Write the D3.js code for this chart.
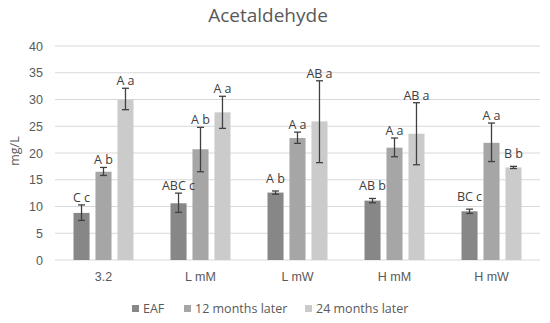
<!DOCTYPE html>
<html>
<head>
<meta charset="utf-8">
<script src="https://cdn.jsdelivr.net/npm/d3@7"></script>
<style>
	body { margin: 0; background: #fff; }
	svg { display: block; font-family: 'Open Sans', 'Liberation Sans', sans-serif; }
</style>
</head>
<body>
<div id="chart"><svg width="550" height="323"></svg></div>
<script>
var categories = ['3.2', 'L mM', 'L mW', 'H mM', 'H mW'];
var seriesNames = ['EAF', '12 months later', '24 months later'];
var seriesColors = ['#878787', '#a6a6a6', '#cbcbcb'];
var yTicks = [0, 5, 10, 15, 20, 25, 30, 35, 40];

// mean values per series (one per category)
var eafValues = [8.8, 10.6, 12.6, 11.1, 9.1];
var m12Values = [16.5, 20.7, 22.8, 21.0, 21.9];
var m24Values = [30.0, 27.6, 25.9, 23.6, 17.3];

// error bar lows / highs
var eafLow = [7.4, 8.9, 12.3, 10.7, 8.7];
var eafHigh = [10.3, 12.5, 12.9, 11.5, 9.5];
var m12Low = [15.8, 16.5, 21.8, 19.3, 18.4];
var m12High = [17.3, 24.8, 23.9, 22.8, 25.6];
var m24Low = [28.1, 24.6, 18.2, 17.8, 17.1];
var m24High = [32.1, 30.6, 33.5, 29.4, 17.5];

// letter labels
var eafLabels = ['C c', 'ABC c', 'A b', 'AB b', 'BC c'];
var m12Labels = ['A b', 'A b', 'A a', 'A a', 'A a'];
var m24Labels = ['A a', 'A a', 'AB a', 'AB a', 'B b'];

var margin = { top: 46, left: 55, right: 10, bottom: 63 };
var svg = d3.select('#chart > svg');
var width = 550 - margin.left - margin.right;
var height = 323 - margin.top - margin.bottom;

var values = [eafValues, m12Values, m24Values];
var lows = [eafLow, m12Low, m24Low];
var highs = [eafHigh, m12High, m24High];
var labels = [eafLabels, m12Labels, m24Labels];

var data = [];
categories.forEach(function(c, i) {
	seriesNames.forEach(function(s, j) {
		data.push({ cat: c, series: s, idx: j, value: values[j][i], lo: lows[j][i], hi: highs[j][i], label: labels[j][i] });
	});
});

var xScale = d3.scaleBand().domain(categories).range([0, width]);
var xInner = d3.scaleBand().domain(seriesNames).range([0, 60]).paddingInner(0.27);
var yScale = d3.scaleLinear().domain([0, 40]).range([height, 0]);

// title
svg.append('text')
	.attr('x', 268).attr('y', 22)
	.attr('text-anchor', 'middle')
	.attr('font-size', 19)
	.attr('fill', '#595959')
	.text('Acetaldehyde');

var group = svg.append('g')
	.attr('transform', 'translate(' + [margin.left, margin.top] + ')');

// grid
group.append('g').selectAll('line')
	.data(yTicks)
	.enter().append('line')
	.attr('x1', 0).attr('x2', width)
	.attr('y1', function(d) { return yScale(d) })
	.attr('y2', function(d) { return yScale(d) })
	.attr('stroke', '#d9d9d9')
	.attr('stroke-width', 1);

// y axis
var yAxis = group.append('g')
	.call(d3.axisLeft(yScale).tickValues(yTicks).tickSize(0).tickPadding(12));
yAxis.select('.domain').remove();
yAxis.selectAll('text').attr('font-size', 12.5).attr('fill', '#595959').attr('font-family', null);

// x axis
var xAxis = group.append('g')
	.attr('transform', 'translate(0,' + height + ')')
	.call(d3.axisBottom(xScale).tickSize(0).tickPadding(12));
xAxis.select('.domain').remove();
xAxis.selectAll('text').attr('font-size', 12.5).attr('fill', '#595959').attr('font-family', null);

// y label
svg.append('text')
	.attr('transform', 'translate(19,151) rotate(-90)')
	.attr('text-anchor', 'middle')
	.attr('font-size', 12.5)
	.attr('fill', '#595959')
	.text('mg/L');

function barX(d) { return xScale(d.cat) + (xScale.bandwidth() - 60) / 2 + xInner(d.series) }

// bars
group.append('g').selectAll('rect')
	.data(data)
	.enter().append('rect')
	.attr('x', barX)
	.attr('y', function(d) { return yScale(d.value) })
	.attr('width', xInner.bandwidth())
	.attr('height', function(d) { return height - yScale(d.value) })
	.attr('fill', function(d) { return seriesColors[d.idx] });

// error bars
var err = group.append('g').attr('stroke', '#404040').attr('stroke-width', 1.3);
data.forEach(function(d) {
	var cx = barX(d) + xInner.bandwidth() / 2;
	err.append('line').attr('x1', cx).attr('x2', cx).attr('y1', yScale(d.lo)).attr('y2', yScale(d.hi));
	err.append('line').attr('x1', cx - 3.5).attr('x2', cx + 3.5).attr('y1', yScale(d.lo)).attr('y2', yScale(d.lo));
	err.append('line').attr('x1', cx - 3.5).attr('x2', cx + 3.5).attr('y1', yScale(d.hi)).attr('y2', yScale(d.hi));
});

// letter labels
group.append('g').selectAll('text')
	.data(data)
	.enter().append('text')
	.attr('x', function(d) { return barX(d) + xInner.bandwidth() / 2 })
	.attr('y', function(d) { return yScale(d.hi) - (d.hi - d.lo < 1 ? 8 : 3) })
	.attr('text-anchor', 'middle')
	.attr('font-size', 12.5)
	.attr('fill', '#404040')
	.text(function(d) { return d.label });

// legend
var legendX = [132, 184, 305];
var legend = svg.append('g').selectAll('g')
	.data(seriesNames)
	.enter().append('g')
	.attr('transform', function(d, i) { return 'translate(' + [legendX[i], 305] + ')' });
legend.append('rect')
	.attr('width', 7).attr('height', 7)
	.attr('fill', function(d, i) { return seriesColors[i] });
legend.append('text')
	.attr('x', 11).attr('y', 8)
	.attr('font-size', 12.5)
	.attr('fill', '#595959')
	.text(function(d) { return d });
</script>
</body>
</html>
